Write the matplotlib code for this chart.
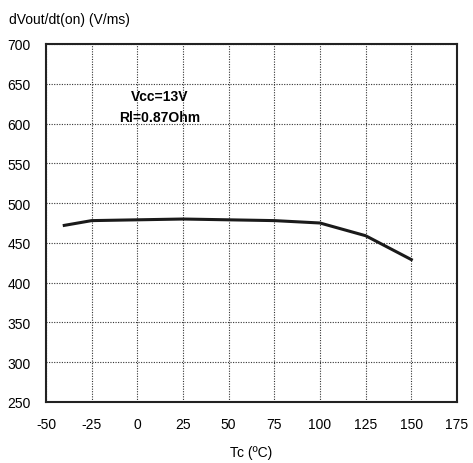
import matplotlib
matplotlib.use("Agg")
import matplotlib.pyplot as plt

plt.rcParams['font.family'] = ['Liberation Sans', 'DejaVu Sans']
plt.rcParams['axes.unicode_minus'] = False

# data
temp = [-40, -25, 0, 25, 50, 75, 100, 125, 150]
dvdt = [472, 478, 479, 480, 479, 478, 475, 459, 429]

xticks = [-50, -25, 0, 25, 50, 75, 100, 125, 150, 175]
yticks = [250, 300, 350, 400, 450, 500, 550, 600, 650, 700]

fig = plt.figure(figsize=(4.73, 4.64), dpi=100)
ax = fig.add_axes([46/473, 1 - 403/464, 411/473, 358/464])

ax.plot(temp, dvdt, color='#1a1a1a', linewidth=2.2)

ax.set_xlim(-50, 175)
ax.set_ylim(250, 700)
ax.set_xticks(xticks)
ax.set_yticks(yticks)
ax.tick_params(axis='y', length=0, labelsize=10, pad=11)
ax.tick_params(axis='x', length=0, labelsize=10, pad=11)
ax.grid(True, color='#333333', linestyle=(0, (1, 1.3)), linewidth=0.8)
for s in ax.spines.values():
    s.set_linewidth(1.5)
    s.set_color('#222222')

ax.text(12, 635, 'Vcc=13V', ha='center', va='center', fontsize=10, fontweight='bold')
ax.text(12, 608, 'Rl=0.87Ohm', ha='center', va='center', fontsize=10, fontweight='bold')

fig.text(9/473, 1 - 20/464, 'dVout/dt(on) (V/ms)', ha='left', va='center', fontsize=10)
ax.set_xlabel('Tc (ºC)', fontsize=10, labelpad=10)

fig.savefig('out.png', dpi=100)
